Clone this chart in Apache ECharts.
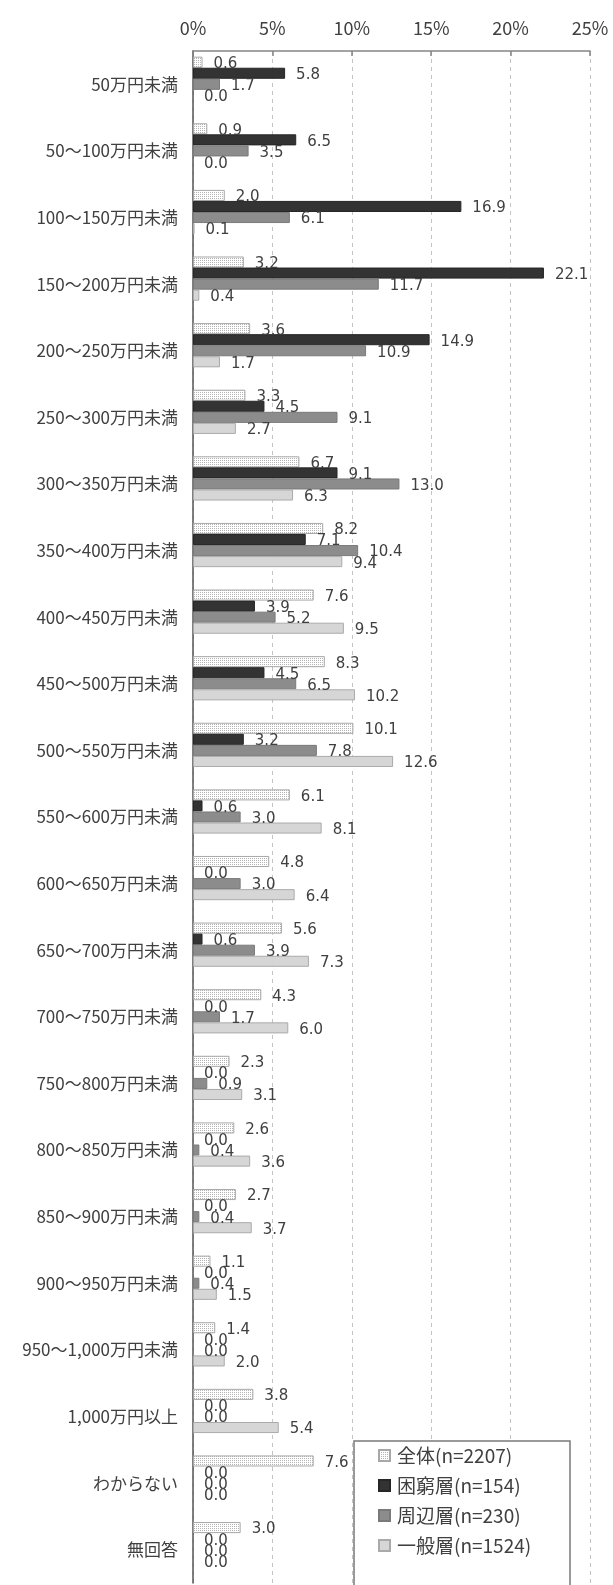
<!DOCTYPE html>
<html>
<head>
<meta charset="utf-8">
<script src="https://cdn.jsdelivr.net/npm/echarts@6/dist/echarts.min.js"></script>
<style>
  html, body { margin: 0; padding: 0; background: #fff; }
  #chart { width: 613px; height: 1585px; }
</style>
</head>
<body>
<div id="chart"></div>
<script>
// 世帯年収の分布（%）
const categories = [
  '50万円未満', '50～100万円未満', '100～150万円未満', '150～200万円未満',
  '200～250万円未満', '250～300万円未満', '300～350万円未満', '350～400万円未満',
  '400～450万円未満', '450～500万円未満', '500～550万円未満', '550～600万円未満',
  '600～650万円未満', '650～700万円未満', '700～750万円未満', '750～800万円未満',
  '800～850万円未満', '850～900万円未満', '900～950万円未満', '950～1,000万円未満',
  '1,000万円以上', 'わからない', '無回答'
];

const seriesNames = ['全体(n=2207)', '困窮層(n=154)', '周辺層(n=230)', '一般層(n=1524)'];

const zentai = [0.6, 0.9, 2.0, 3.2, 3.6, 3.3, 6.7, 8.2, 7.6, 8.3, 10.1, 6.1,
                4.8, 5.6, 4.3, 2.3, 2.6, 2.7, 1.1, 1.4, 3.8, 7.6, 3.0];
const konkyu = [5.8, 6.5, 16.9, 22.1, 14.9, 4.5, 9.1, 7.1, 3.9, 4.5, 3.2, 0.6,
                0.0, 0.6, 0.0, 0.0, 0.0, 0.0, 0.0, 0.0, 0.0, 0.0, 0.0];
const shuhen = [1.7, 3.5, 6.1, 11.7, 10.9, 9.1, 13.0, 10.4, 5.2, 6.5, 7.8, 3.0,
                3.0, 3.9, 1.7, 0.9, 0.4, 0.4, 0.4, 0.0, 0.0, 0.0, 0.0];
const ippan  = [0.0, 0.0, 0.1, 0.4, 1.7, 2.7, 6.3, 9.4, 9.5, 10.2, 12.6, 8.1,
                6.4, 7.3, 6.0, 3.1, 3.6, 3.7, 1.5, 2.0, 5.4, 0.0, 0.0];

const xTicks = { min: 0, max: 25, interval: 5 };

// dotted fill used for the 全体 bars
function dotPattern() {
  const c = document.createElement('canvas');
  c.width = 4; c.height = 4;
  const g = c.getContext('2d');
  g.fillStyle = '#ffffff';
  g.fillRect(0, 0, 4, 4);
  g.fillStyle = '#b4b4b4';
  g.fillRect(0, 0, 1, 1);
  g.fillRect(2, 2, 1, 1);
  g.fillRect(0, 2, 1, 1);
  g.fillRect(2, 0, 1, 1);
  return c;
}

const labelStyle = {
  show: true,
  position: 'right',
  distance: 11,
  offset: [0, 2],
  fontFamily: 'DejaVu Sans',
  fontSize: 15,
  color: '#404040',
  formatter: p => Number(p.value).toFixed(1)
};

const styles = [
  { color: { image: dotPattern(), repeat: 'repeat' }, borderColor: '#a8a8a8', borderWidth: 1 },
  { color: '#333333', borderColor: '#262626', borderWidth: 1 },
  { color: '#8c8c8c', borderColor: '#7a7a7a', borderWidth: 1 },
  { color: '#d6d6d6', borderColor: '#aaaaaa', borderWidth: 1 }
];

const values = [zentai, konkyu, shuhen, ippan];

// zero-length bars keep their label but draw no outline
const toItems = v => v.map(x => x === 0 ? { value: x, itemStyle: { borderWidth: 0 } } : x);

const series = values.map((v, i) => ({
  name: seriesNames[i],
  type: 'bar',
  data: toItems(v),
  barGap: '0%',
  barCategoryGap: '17%',
  itemStyle: styles[i],
  label: labelStyle,
  silent: true
}));

// empty slot after the four bars of each group
series.push({
  name: 'spacer',
  type: 'bar',
  data: categories.map(() => null),
  barGap: '0%',
  barCategoryGap: '17%',
  silent: true
});

const chart = echarts.init(document.getElementById('chart'), null, { renderer: 'canvas' });

chart.setOption({
  animation: false,
  backgroundColor: '#ffffff',
  grid: { left: 193, right: 23, top: 51, height: 1532, containLabel: false },
  xAxis: {
    type: 'value',
    position: 'top',
    min: xTicks.min,
    max: xTicks.max,
    interval: xTicks.interval,
    axisLine: { show: true, lineStyle: { color: '#858585', width: 1.5 } },
    axisTick: { show: true, inside: true, length: 5, lineStyle: { color: '#858585', width: 1.5 } },
    axisLabel: {
      formatter: '{value}%',
      fontFamily: 'Noto Sans CJK JP',
      fontSize: 18,
      color: '#404040',
      margin: 14
    },
    splitLine: { show: true, lineStyle: { color: '#c4c4c4', type: [4, 4], width: 1 } }
  },
  yAxis: {
    type: 'category',
    inverse: true,
    data: categories,
    axisLine: { show: true, lineStyle: { color: '#555555', width: 1.5 } },
    axisTick: { show: false },
    axisLabel: {
      fontFamily: 'Noto Sans CJK JP',
      fontSize: 17,
      color: '#404040',
      margin: 15
    }
  },
  legend: {
    data: seriesNames.map(n => ({ name: n, icon: 'rect' })),
    orient: 'vertical',
    left: 378,
    top: 1446,
    padding: 0,
    itemWidth: 11,
    itemHeight: 11,
    itemGap: 11,
    z: 10,
    textStyle: { fontFamily: 'Noto Sans CJK JP', fontSize: 19, color: '#404040', padding: [0, 0, 0, 2] }
  },
  graphic: [{
    type: 'rect',
    z: 5,
    shape: { x: 354, y: 1441, width: 216, height: 200 },
    style: { fill: '#ffffff', stroke: '#7a7a7a', lineWidth: 1.5 }
  }],
  series: series
});
</script>
</body>
</html>
